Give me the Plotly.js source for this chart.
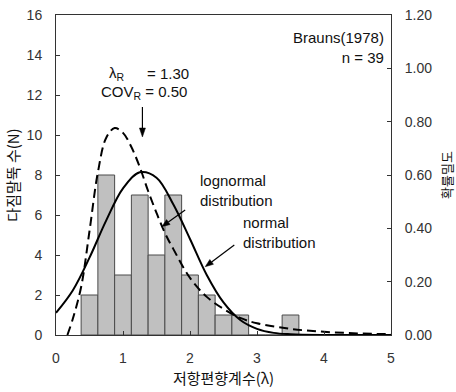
<!DOCTYPE html>
<html>
<head>
<meta charset="utf-8">
<script src="https://cdn.plot.ly/plotly-3.0.1.min.js"></script>
<style>
  html, body { margin: 0; padding: 0; background: #fff; }
  #chart { width: 456px; height: 392px; }
</style>
</head>
<body>
<div id="chart"></div>
<script>
// ---- data ----
const binCenters = [0.5, 0.75, 1.0, 1.25, 1.5, 1.75, 2.0, 2.25, 2.5, 2.75, 3.0, 3.25, 3.5];
const pileCounts = [2, 8, 3, 7, 4, 7, 3, 2, 1, 1, 0, 0, 1];

const normalX = [0, 0.25, 0.5, 0.75, 1.0, 1.25, 1.5, 1.75, 2.0, 2.25, 2.5, 2.75, 3.0, 3.25, 3.5, 4.0, 4.5, 5.0];
const normalPdf = [0.083, 0.167, 0.29, 0.43, 0.55, 0.61, 0.59, 0.49, 0.36, 0.225, 0.122, 0.056, 0.023, 0.008, 0.003, 0.0003, 0, 0];

const lognormalX = [0.17, 0.25, 0.375, 0.5, 0.625, 0.75, 0.875, 1.0, 1.125, 1.25, 1.375, 1.5, 1.625, 1.75, 2.0, 2.25, 2.5, 2.75, 3.0, 3.5, 4.0, 4.5, 5.0];
const lognormalPdf = [0, 0.06, 0.18, 0.39, 0.61, 0.74, 0.776, 0.758, 0.705, 0.63, 0.54, 0.458, 0.383, 0.323, 0.214, 0.143, 0.098, 0.064, 0.044, 0.023, 0.012, 0.006, 0.003];

const xTitle = '저항편향계수(λ)';
const yTitle = '다짐말뚝 수(N)';
const y2Title = '확률밀도';

const latin = 'Liberation Sans, Arial, Noto Sans CJK KR, sans-serif';
const korean = 'Noto Sans CJK KR, Liberation Sans, sans-serif';

const traces = [
  {
    type: 'bar', x: binCenters, y: pileCounts, width: 0.25,
    marker: { color: '#c0c0c0', line: { color: '#4a4a4a', width: 1 } },
    hoverinfo: 'x+y', showlegend: false
  },
  {
    type: 'scatter', mode: 'lines', x: normalX, y: normalPdf, yaxis: 'y2',
    line: { color: '#000', width: 2, shape: 'spline', smoothing: 1 }, showlegend: false
  },
  {
    type: 'scatter', mode: 'lines', x: lognormalX, y: lognormalPdf, yaxis: 'y2',
    line: { color: '#000', width: 2, dash: '9px,5px', shape: 'spline', smoothing: 1 }, showlegend: false
  }
];

const tickFont = { family: latin, size: 14, color: '#333' };
const annFont = { family: latin, size: 15, color: '#111' };

// pointer arrows (line + filled head), in data units of the left axis
const arrowLine = (x0, y0, x1, y1) => ({ type: 'line', xref: 'x', yref: 'y', x0, y0, x1, y1,
  line: { color: '#000', width: 1.2 } });
const arrowHead = (pts) => ({ type: 'path', xref: 'x', yref: 'y',
  path: 'M' + pts.map(p => p.join(',')).join(' L') + ' Z',
  fillcolor: '#000', line: { color: '#000', width: 0.5 } });

const layout = {
  width: 456, height: 392,
  margin: { l: 56, r: 65, t: 15, b: 57 },
  paper_bgcolor: '#fff', plot_bgcolor: '#fff',
  bargap: 0,
  showlegend: false,
  xaxis: {
    range: [0, 5], dtick: 1, tick0: 0,
    showline: true, mirror: true, linecolor: '#333', linewidth: 1,
    ticks: 'inside', ticklen: 4, tickcolor: '#333',
    showgrid: false, zeroline: false,
    tickfont: tickFont, ticklabelstandoff: 10,
    title: { text: xTitle, font: { family: korean, size: 15, color: '#111' }, standoff: 8 }
  },
  yaxis: {
    range: [0, 16], dtick: 2, tick0: 0,
    showline: true, mirror: true, linecolor: '#333', linewidth: 1,
    ticks: 'inside', ticklen: 4, tickcolor: '#333',
    showgrid: false, zeroline: false,
    tickfont: tickFont, ticklabelstandoff: 10,
    title: { text: yTitle, font: { family: korean, size: 15, color: '#111' }, standoff: 3 }
  },
  yaxis2: {
    overlaying: 'y', side: 'right',
    range: [0, 1.2], dtick: 0.2, tick0: 0, tickformat: '.2f',
    showline: true, linecolor: '#333', linewidth: 1,
    ticks: 'inside', ticklen: 4, tickcolor: '#333',
    showgrid: false, zeroline: false,
    tickfont: tickFont, ticklabelstandoff: 10,
    title: { text: y2Title, font: { family: korean, size: 13, color: '#111' }, standoff: 18 }
  },
  shapes: [
    arrowLine(1.29, 11.4, 1.29, 10.35),
    arrowHead([[1.29, 9.9], [1.245, 10.35], [1.335, 10.35]]),
    arrowLine(1.928, 6.25, 1.677, 5.65),
    arrowHead([[1.580, 5.415], [1.703, 5.525], [1.650, 5.77]]),
    arrowLine(2.661, 4.5, 2.323, 3.655),
    arrowHead([[2.227, 3.415], [2.350, 3.535], [2.296, 3.775]])
  ],
  annotations: [
    { x: 4.93, y: 15.4, xref: 'x', yref: 'y', xanchor: 'right', yanchor: 'top', align: 'right',
      text: 'Brauns(1978)<br>n = 39', showarrow: false, font: annFont },
    { x: 0.76, y: 13.1, xref: 'x', yref: 'y', xanchor: 'left', yanchor: 'middle',
      text: 'λ<sub>R</sub>', showarrow: false, font: annFont },
    { x: 1.33, y: 13.1, xref: 'x', yref: 'y', xanchor: 'left', yanchor: 'middle',
      text: '= 1.30', showarrow: false, font: annFont },
    { x: 0.64, y: 12.15, xref: 'x', yref: 'y', xanchor: 'left', yanchor: 'middle',
      text: 'COV<sub>R</sub> = 0.50', showarrow: false, font: annFont },
    { x: 2.12, y: 7.25, xref: 'x', yref: 'y', xanchor: 'left', yanchor: 'middle', align: 'left',
      text: 'lognormal<br>distribution', showarrow: false, font: annFont },
    { x: 2.76, y: 5.15, xref: 'x', yref: 'y', xanchor: 'left', yanchor: 'middle', align: 'left',
      text: 'normal<br>distribution', showarrow: false, font: annFont }
  ]
};

Plotly.newPlot('chart', traces, layout, { staticPlot: true, displayModeBar: false });
</script>
</body>
</html>
